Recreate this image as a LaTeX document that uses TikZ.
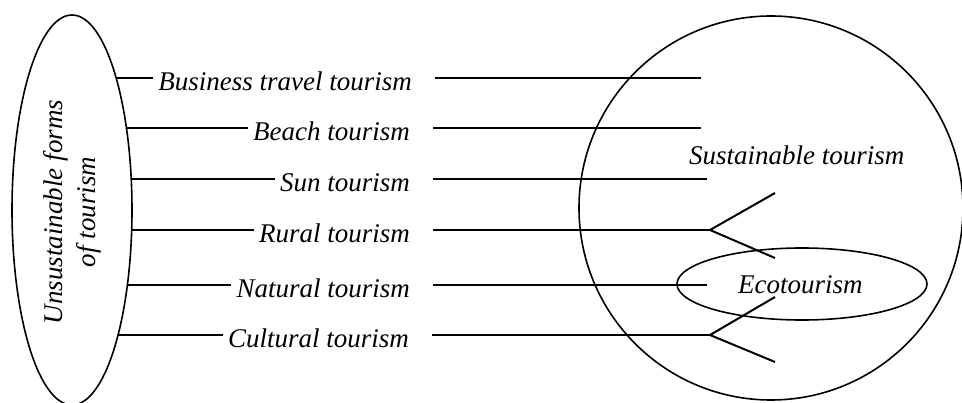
\documentclass[tikz,border=0pt]{standalone}
\usepackage{fontspec}
\setmainfont{Liberation Serif}
\usetikzlibrary{shapes.geometric}
\begin{document}
\begin{tikzpicture}[x=1pt,y=-1pt,
  conn/.style={line width=2pt},
  shapeline/.style={draw,line width=1.6pt,inner sep=0pt},
  lbl/.style={font=\fontsize{27}{33}\selectfont\itshape,inner sep=0pt}]
\useasboundingbox (0,0) rectangle (962,403);
% main shapes
\node[shapeline,ellipse,minimum width=120pt,minimum height=390pt] (U) at (72,210) {};
\node[lbl,rotate=90,align=center] (Ut) at (72,212) {Unsustainable forms\\of tourism};
\node[shapeline,circle,minimum size=384pt] (S) at (771,208) {};
\node[shapeline,ellipse,minimum width=250pt,minimum height=72pt] (E) at (802,284) {};
\node[lbl,anchor=base west] (St) at (689,165) {Sustainable tourism};
\node[lbl,anchor=base west] (Et) at (738,294) {Ecotourism};
% row labels
\node[lbl,anchor=base east] (T1) at (412,91) {Business travel tourism};
\node[lbl,anchor=base east] (T2) at (410,141) {Beach tourism};
\node[lbl,anchor=base east] (T3) at (410,192) {Sun tourism};
\node[lbl,anchor=base east] (T4) at (410,243) {Rural tourism};
\node[lbl,anchor=base east] (T5) at (410,298) {Natural tourism};
\node[lbl,anchor=base east] (T6) at (409,348) {Cultural tourism};
% left ends on the ellipse border
\coordinate (L1) at (116,78);
\coordinate (L2) at (126.4,128);
\coordinate (L3) at (131.2,179);
\coordinate (L4) at (131.7,230);
\coordinate (L5) at (127.4,285);
\coordinate (L6) at (118,335);
% right ends
\coordinate (R1) at (701,78);
\coordinate (R2) at (701,128);
\coordinate (R3) at (707,179);
\coordinate (R4) at (710,230);
\coordinate (R5) at (707,285);
\coordinate (R6) at (710,335);
% fork ends
\coordinate (F4a) at (775,193);
\coordinate (F4b) at (775,258);
\coordinate (F6a) at (775,297);
\coordinate (F6b) at (775,362);
% connectors
\foreach \i in {1,...,6}{
  \draw[conn] (L\i) -- ([xshift=-5pt]T\i.west |- L\i);
  \draw[conn] ([xshift=23pt]T\i.east |- L\i) -- (R\i);
}
% forks
\draw[conn] (F4a) -- (R4) -- (F4b);
\draw[conn] (F6a) -- (R6) -- (F6b);
\end{tikzpicture}
\end{document}
